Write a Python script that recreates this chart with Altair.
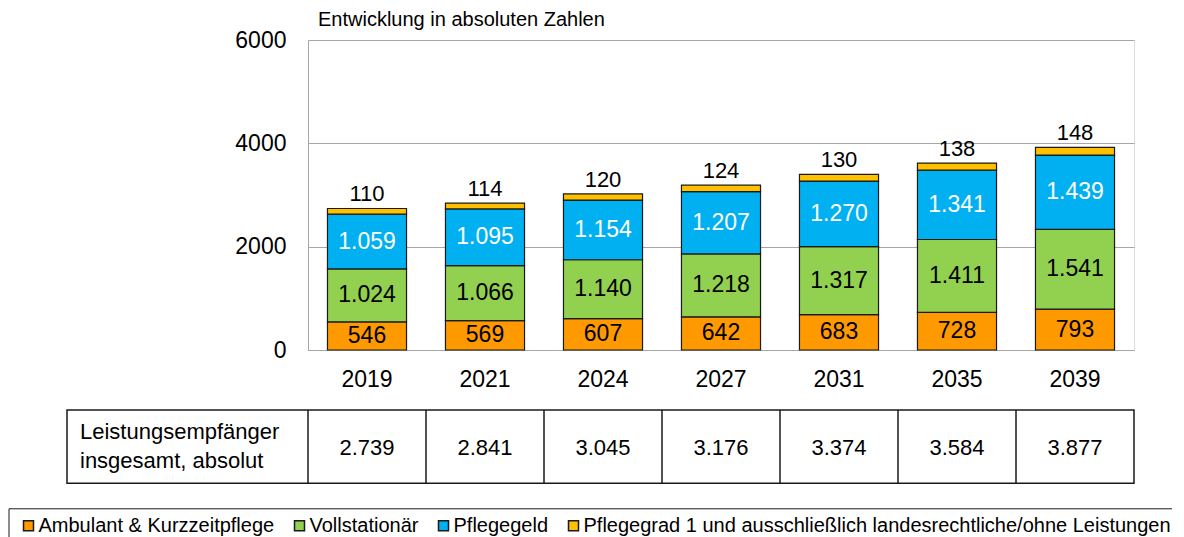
import altair as alt
import pandas as pd

years = ["2019", "2021", "2024", "2027", "2031", "2035", "2039"]
ambulant = [546, 569, 607, 642, 683, 728, 793]
vollstationaer = [1024, 1066, 1140, 1218, 1317, 1411, 1541]
pflegegeld = [1059, 1095, 1154, 1207, 1270, 1341, 1439]
pflegegrad1 = [110, 114, 120, 124, 130, 138, 148]
totals = [2739, 2841, 3045, 3176, 3374, 3584, 3877]

series_names = [
    "Ambulant & Kurzzeitpflege",
    "Vollstationär",
    "Pflegegeld",
    "Pflegegrad 1 und ausschließlich landesrechtliche/ohne Leistungen",
]
series_colors = ["#FF9900", "#92D050", "#00B0F0", "#FFC000"]
label_colors = ["#000000", "#000000", "#FFFFFF", "#000000"]

title_text = "Entwicklung in absoluten Zahlen"
table_header = "Leistungsempfänger\ninsgesamt, absolut"

FONT = "Liberation Sans"


def de(v):
    return f"{v:,}".replace(",", ".")


rows = []
for i, yr in enumerate(years):
    base = 0
    for k, (s, vals) in enumerate(zip(series_names, [ambulant, vollstationaer, pflegegeld, pflegegrad1])):
        v = vals[i]
        rows.append(dict(year=yr, series=s, value=v, start=base, end=base + v,
                         mid=base + v / 2, label=de(v), tcolor=label_colors[k], k=k))
        base += v
df = pd.DataFrame(rows)
df_in = df[df.k < 3]
df_top = df[df.k == 3]
df_tot = pd.DataFrame({"year": years, "total": [de(t) for t in totals]})
df_head = pd.DataFrame({"t": [table_header]})
df_title = pd.DataFrame({"t": [title_text]})

GRAY = "#A6A6A6"
LINE = "#1a1a1a"

xenc = alt.X("year:N", sort=years, title=None,
             scale=alt.Scale(paddingInner=0, paddingOuter=0),
             axis=alt.Axis(title=None, labelAngle=0, labelFontSize=23, labelFont=FONT,
                           labelColor="#000", labelPadding=18, ticks=False, tickSize=0,
                           domainColor=GRAY, domainWidth=1, grid=False))


def xo(**kw):
    return alt.X("year:N", sort=years, title=None, **kw)


bars = alt.Chart(df).mark_bar(stroke=LINE, strokeWidth=1.2,
                              width=alt.RelativeBandSize(0.67)).encode(
    x=xenc,
    y=alt.Y("start:Q", title=None, scale=alt.Scale(domain=[0, 6000]),
            axis=alt.Axis(title=None, values=[0, 2000, 4000, 6000], format="d",
                          labelFontSize=23, labelFont=FONT, labelColor="#000",
                          labelPadding=22, ticks=False, tickSize=0, domainColor=GRAY,
                          domainWidth=1, grid=True, gridColor=GRAY, gridWidth=1)),
    y2="end:Q",
    color=alt.Color("series:N", sort=series_names,
                    scale=alt.Scale(domain=series_names, range=series_colors),
                    legend=alt.Legend(title=None, orient="none", legendX=-299.5, legendY=468.3,
                                      direction="horizontal", symbolType="square",
                                      symbolSize=100, symbolStrokeColor=LINE,
                                      symbolStrokeWidth=1.5, labelFontSize=20,
                                      labelFont=FONT, labelColor="#000", labelLimit=2000,
                                      columnPadding=12, padding=7.5, strokeColor=LINE,
                                      symbolOffset=2.5, labelOffset=0)),
)

inner = alt.Chart(df_in).mark_text(fontSize=23, font=FONT, baseline="middle").encode(
    x=xo(),
    y=alt.Y("mid:Q", title=None),
    text="label:N",
    color=alt.Color("tcolor:N", scale=None),
)

top = alt.Chart(df_top).mark_text(fontSize=22, font=FONT, baseline="alphabetic", dy=-7,
                                  color="#000").encode(
    x=xo(),
    y=alt.Y("end:Q", title=None),
    text="label:N",
)

table_box = alt.Chart(df_title).mark_rect(filled=False, stroke=LINE, strokeWidth=1.5).encode(
    x=alt.value(-241), x2=alt.value(826), y=alt.value(370), y2=alt.value(443.3))

table_div = alt.Chart(df_tot).mark_rule(color=LINE, strokeWidth=1.5).encode(
    x=xo(bandPosition=0),
    y=alt.value(370), y2=alt.value(443.3))

table_tot = alt.Chart(df_tot).mark_text(fontSize=22, font=FONT, baseline="alphabetic",
                                        color="#000").encode(
    x=xo(),
    y=alt.value(415),
    text="total:N",
)

table_head = alt.Chart(df_head).mark_text(fontSize=22, font=FONT, baseline="alphabetic",
                                          align="left", lineBreak="\n", lineHeight=29,
                                          color="#000").encode(
    x=alt.value(-228), y=alt.value(399), text="t:N")

title = alt.Chart(df_title).mark_text(fontSize=20, font=FONT, baseline="alphabetic",
                                      align="left", color="#000").encode(
    x=alt.value(10), y=alt.value(-14), text="t:N")

chart = alt.layer(bars, inner, top, table_box, table_div, table_tot, table_head, title).properties(
    width=826, height=310,
    autosize=alt.AutoSizeParams(type="none"),
    padding={"left": 300, "top": 32, "right": 38, "bottom": 187},
).configure_view(strokeWidth=0).configure(background="white")

chart.save("out.html", embed_options={"renderer": "svg", "actions": False})
